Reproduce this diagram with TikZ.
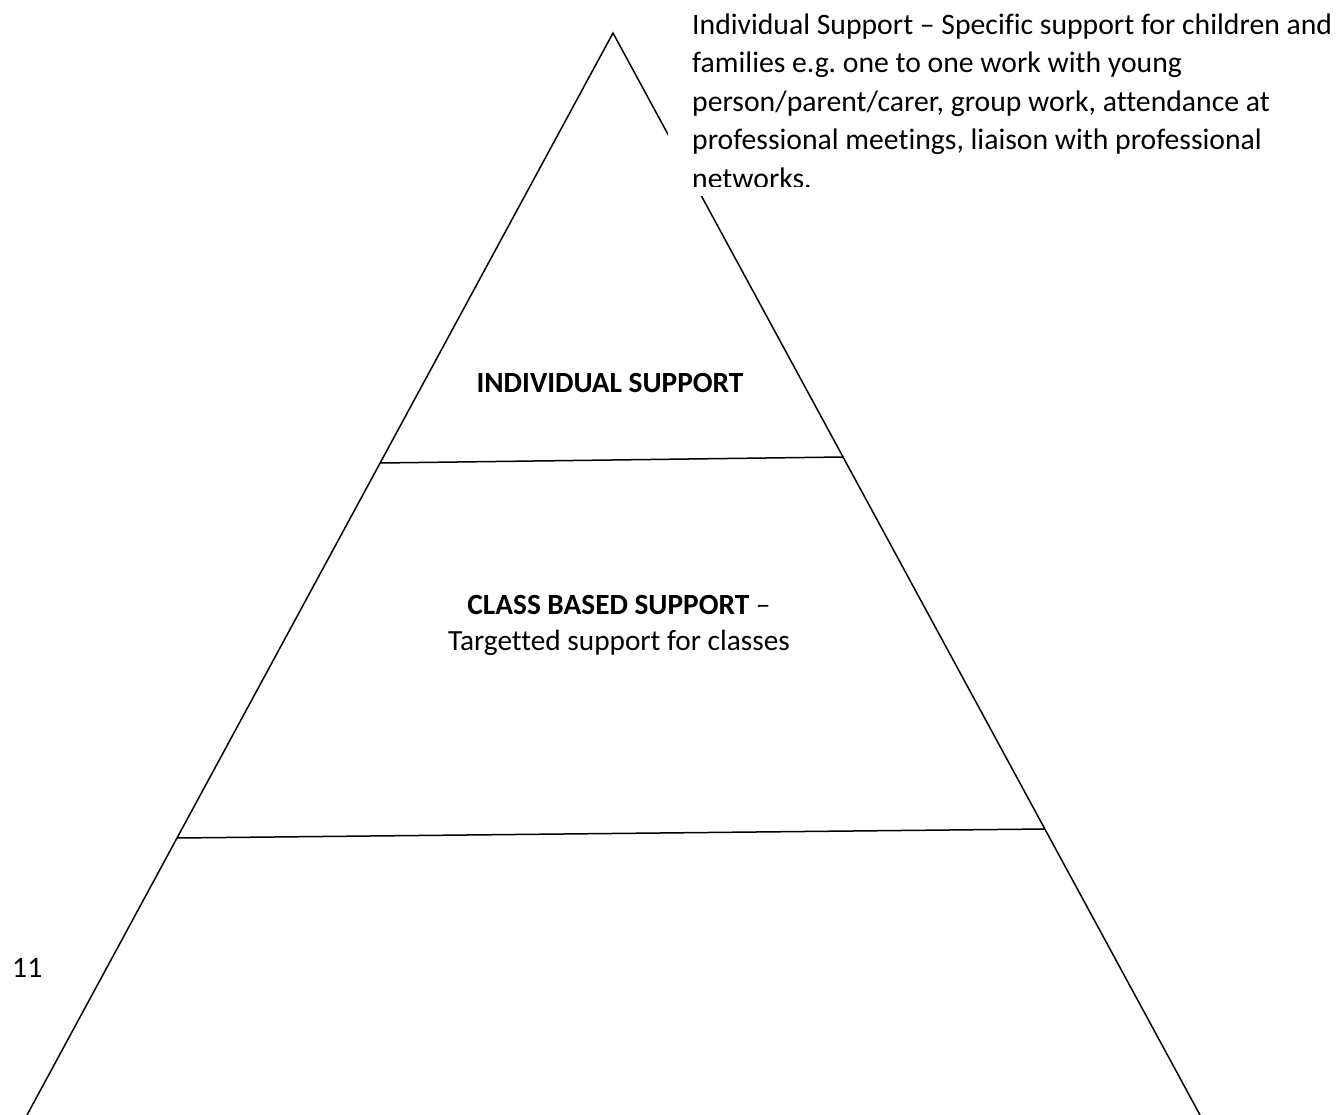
\documentclass[tikz,border=0pt]{standalone}
\usepackage{fontspec}
\setmainfont{Carlito}[Ligatures={NoCommon}]
\begin{document}
\frenchspacing
\begin{tikzpicture}[x=1pt,y=-1pt,
  edge/.style={line width=1.5pt,black},
  body/.style={font=\fontsize{29.7}{38.5}\selectfont,inner sep=0pt},
  mid/.style={font=\fontsize{29.3}{36}\selectfont,inner sep=0pt},
  title/.style={font=\fontsize{29.3}{38.5}\selectfont\bfseries,inner sep=0pt}]
\useasboundingbox[fill=white] (0,0) rectangle (1343,1115);
% corners
\coordinate (apex) at (613,33);
\coordinate (bl) at (27,1115);
\coordinate (br) at (1200,1115);
\coordinate (l1) at (380,463);
\coordinate (r1) at (843,457);
\coordinate (l2) at (177,838);
\coordinate (r2) at (1045,829);
\draw[edge] (bl) -- (apex) -- (br);
\draw[edge] (l1) -- (r1);
\draw[edge] (l2) -- (r2);
% text box covering part of the right edge
\fill[white] (668,0) rectangle (1343,196);
\begin{scope}
\clip (668,0) rectangle (1343,187);
\node[body,anchor=base west,align=left] (note) at (692,188.5)
{Individual Support – Specific support for children and\\
families e.g. one to one work with young\\
person/parent/carer, group work, attendance at\\
professional meetings, liaison with professional\\
networks.};
\end{scope}
\node[title,anchor=base] (ind) at (610,392) {INDIVIDUAL SUPPORT};
\node[mid,anchor=base,align=center] (cls) at (619,650)
{\textbf{CLASS BASED SUPPORT} –\\ Targetted support for classes};
\node[body,anchor=base west] (pg) at (12,977) {11};
\end{tikzpicture}
\end{document}
